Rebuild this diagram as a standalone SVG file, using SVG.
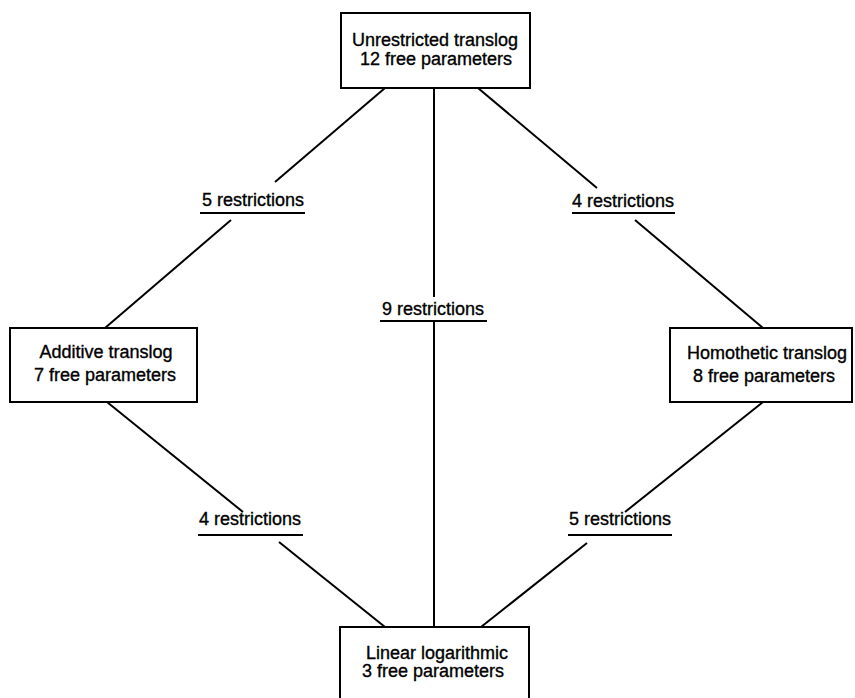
<svg xmlns="http://www.w3.org/2000/svg" width="855" height="698" viewBox="0 0 855 698">
<style>
  .box { fill: #fff; stroke: #000; stroke-width: 2; }
  .t { font-family: "Liberation Sans", Arial, sans-serif; font-size: 18px; fill: #000; stroke: #000; stroke-width: 0.35; text-anchor: middle; }
  .c { stroke: #000; stroke-width: 2; fill: none; }
  .u { stroke: #000; stroke-width: 2; }
</style>
<rect width="855" height="698" fill="#fff"/>
<g id="connectors">
  <line class="c" x1="385" y1="88" x2="275" y2="182"/>
  <line class="c" x1="231" y1="220" x2="105" y2="328"/>
  <line class="c" x1="478" y1="88" x2="597" y2="188"/>
  <line class="c" x1="635" y1="220" x2="763" y2="328"/>
  <line class="c" x1="434" y1="88" x2="434" y2="297"/>
  <line class="c" x1="434" y1="321" x2="434" y2="627"/>
  <line class="c" x1="107" y1="402" x2="243" y2="512"/>
  <line class="c" x1="279" y1="542" x2="385" y2="627"/>
  <line class="c" x1="763" y1="402" x2="625" y2="512"/>
  <line class="c" x1="587" y1="543" x2="481" y2="627"/>
  <g id="label-5-top">
    <text class="t" x="253" y="206">5 restrictions</text>
    <line class="u" x1="200" y1="213" x2="305" y2="213"/>
  </g>
  <g id="label-4-top">
    <text class="t" x="623" y="207">4 restrictions</text>
    <line class="u" x1="572" y1="213" x2="675" y2="213"/>
  </g>
  <g id="label-9">
    <text class="t" x="433" y="315">9 restrictions</text>
    <line class="u" x1="380" y1="321" x2="487" y2="321"/>
  </g>
  <g id="label-4-bottom">
    <text class="t" x="250" y="525">4 restrictions</text>
    <line class="u" x1="198" y1="535" x2="303" y2="535"/>
  </g>
  <g id="label-5-bottom">
    <text class="t" x="620" y="525">5 restrictions</text>
    <line class="u" x1="568" y1="535" x2="672" y2="535"/>
  </g>
</g>
<g id="unrestricted">
  <rect class="box" x="341" y="13" width="189" height="75"/>
  <text class="t" x="435" y="46">Unrestricted translog</text>
  <text class="t" x="436" y="65">12 free parameters</text>
</g>
<g id="additive">
  <rect class="box" x="10" y="328" width="187" height="74"/>
  <text class="t" x="106" y="358">Additive translog</text>
  <text class="t" x="105" y="381">7 free parameters</text>
</g>
<g id="homothetic">
  <rect class="box" x="670" y="328" width="182" height="74"/>
  <text class="t" x="767" y="359">Homothetic translog</text>
  <text class="t" x="764" y="382">8 free parameters</text>
</g>
<g id="linear">
  <rect class="box" x="340" y="627" width="189" height="80"/>
  <text class="t" x="437" y="659">Linear logarithmic</text>
  <text class="t" x="433" y="677">3 free parameters</text>
</g>
</svg>
